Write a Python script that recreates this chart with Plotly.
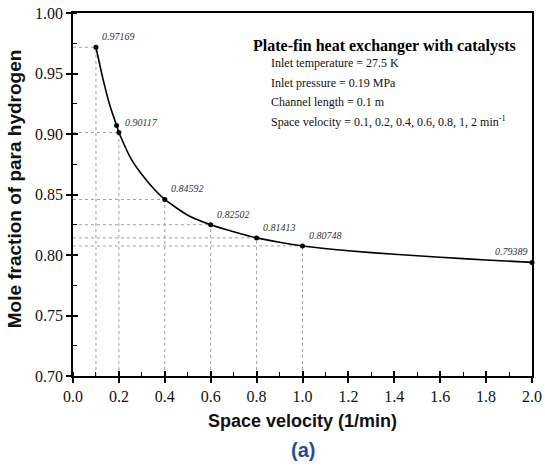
import plotly.graph_objects as go

# Marked simulation points
sv_points = [0.1, 0.2, 0.4, 0.6, 0.8, 1.0, 2.0]
xpara_points = [0.97169, 0.90117, 0.84592, 0.82502, 0.81413, 0.80748, 0.79389]
point_labels = ["0.97169", "0.90117", "0.84592", "0.82502", "0.81413", "0.80748", "0.79389"]

# Extra unlabeled point seen near 0.19
sv_extra = [0.19]
xpara_extra = [0.907]

# Smooth curve
sv_curve = [0.1, 0.13, 0.16, 0.19, 0.2, 0.25, 0.3, 0.35, 0.4, 0.5, 0.6, 0.7, 0.8, 0.9, 1.0,
            1.2, 1.4, 1.6, 1.8, 2.0]
xpara_curve = [0.97169, 0.946, 0.924, 0.907, 0.90117, 0.8805, 0.8665, 0.8552, 0.84592, 0.8329,
               0.82502, 0.8192, 0.81413, 0.8105, 0.80748, 0.8035, 0.8006, 0.7981, 0.7959, 0.79389]

info_title = "Plate-fin heat exchanger with catalysts"
info_lines = ["Inlet temperature = 27.5 K",
              "Inlet pressure = 0.19 MPa",
              "Channel length = 0.1 m",
              "Space velocity = 0.1, 0.2, 0.4, 0.6, 0.8, 1, 2 min<sup>-1</sup>"]

x_title = "Space velocity (1/min)"
y_title = "Mole fraction of para hydrogen"
panel_label = "(a)"

x_range = [0.0, 2.0]
y_range = [0.70, 1.00]

fig = go.Figure()

# drop lines (dotted)
dx, dy = [], []
for xv, yv in zip(sv_points[:-1], xpara_points[:-1]):
    dx += [x_range[0], xv, None, xv, xv, None]
    dy += [yv, yv, None, y_range[0], yv, None]
fig.add_trace(go.Scatter(x=dx, y=dy, mode="lines",
                         line=dict(color="#a0a0a0", width=1, dash="dot"),
                         hoverinfo="skip", showlegend=False))

fig.add_trace(go.Scatter(x=sv_curve, y=xpara_curve, mode="lines",
                         line=dict(color="black", width=1.6, shape="spline", smoothing=0.6),
                         showlegend=False))
fig.add_trace(go.Scatter(x=sv_points + sv_extra, y=xpara_points + xpara_extra, mode="markers",
                         marker=dict(color="black", size=5), showlegend=False, cliponaxis=False))

# dummy trace on overlay axes (for inward tick halves)
fig.add_trace(go.Scatter(x=[None], y=[None], xaxis="x2", yaxis="y2", showlegend=False))

serif = "Liberation Serif, Times New Roman, serif"
sans = "Liberation Sans, Arial, sans-serif"

for i, (xv, yv, lab) in enumerate(zip(sv_points, xpara_points, point_labels)):
    if i == len(sv_points) - 1:
        fig.add_annotation(x=xv, y=yv, text="<i>" + lab + "</i>", showarrow=False,
                           xanchor="right", yanchor="bottom", xshift=-2, yshift=3,
                           font=dict(family=serif, size=10, color="#333"))
    else:
        fig.add_annotation(x=xv, y=yv, text="<i>" + lab + "</i>", showarrow=False,
                           xanchor="left", yanchor="bottom", xshift=4, yshift=3,
                           font=dict(family=serif, size=10, color="#333"))

fig.add_annotation(x=0.388, y=0.910, xref="paper", yref="paper", text="<b>" + info_title + "</b>",
                   showarrow=False, xanchor="left", yanchor="middle",
                   font=dict(family=serif, size=16, color="black"))
for k, line in enumerate(info_lines):
    fig.add_annotation(x=0.426, y=0.861 - k * 0.0535, xref="paper", yref="paper", text=line,
                       showarrow=False, xanchor="left", yanchor="middle",
                       font=dict(family=serif, size=12, color="#111"))

# axis titles and panel label
fig.add_annotation(x=0.5, y=-0.125, xref="paper", yref="paper", text="<b>" + x_title + "</b>",
                   showarrow=False, xanchor="center", yanchor="middle",
                   font=dict(family=sans, size=18, color="#111"))
fig.add_annotation(x=-0.128, y=0.515, xref="paper", yref="paper", text="<b>" + y_title + "</b>",
                   showarrow=False, xanchor="center", yanchor="middle", textangle=-90,
                   font=dict(family=sans, size=19, color="#111"))
fig.add_annotation(x=0.5, y=-0.203, xref="paper", yref="paper", text="<b>" + panel_label + "</b>",
                   showarrow=False, xanchor="center", yanchor="middle",
                   font=dict(family=sans, size=20, color="#1f4e9e"))

axis_common = dict(showgrid=False, zeroline=False, showline=True, linecolor="black", linewidth=1.5,
                   mirror=True, ticks="outside", ticklen=5, tickwidth=1.5, tickcolor="black",
                   automargin=False,
                   tickfont=dict(family=serif, size=16, color="#111"))

fig.update_layout(
    width=545, height=466,
    margin=dict(l=73, r=13, t=13, b=90),
    paper_bgcolor="white", plot_bgcolor="white",
    xaxis=dict(range=x_range, dtick=0.2, tickformat=".1f",
               minor=dict(dtick=0.1, ticks="inside", ticklen=4, tickwidth=1, tickcolor="black"),
               **axis_common),
    yaxis=dict(range=y_range, dtick=0.05, tickformat=".2f",
               minor=dict(dtick=0.025, ticks="inside", ticklen=4, tickwidth=1, tickcolor="black"),
               **axis_common),
    xaxis2=dict(overlaying="x", matches="x", range=x_range, dtick=0.2, showticklabels=False,
                ticks="inside", ticklen=5, tickwidth=1.5, tickcolor="black", showgrid=False,
                zeroline=False, showline=False, side="bottom", automargin=False),
    yaxis2=dict(overlaying="y", matches="y", range=y_range, dtick=0.05, showticklabels=False,
                ticks="inside", ticklen=5, tickwidth=1.5, tickcolor="black", showgrid=False,
                zeroline=False, showline=False, side="left", automargin=False),
)

fig.write_html("out.html")
